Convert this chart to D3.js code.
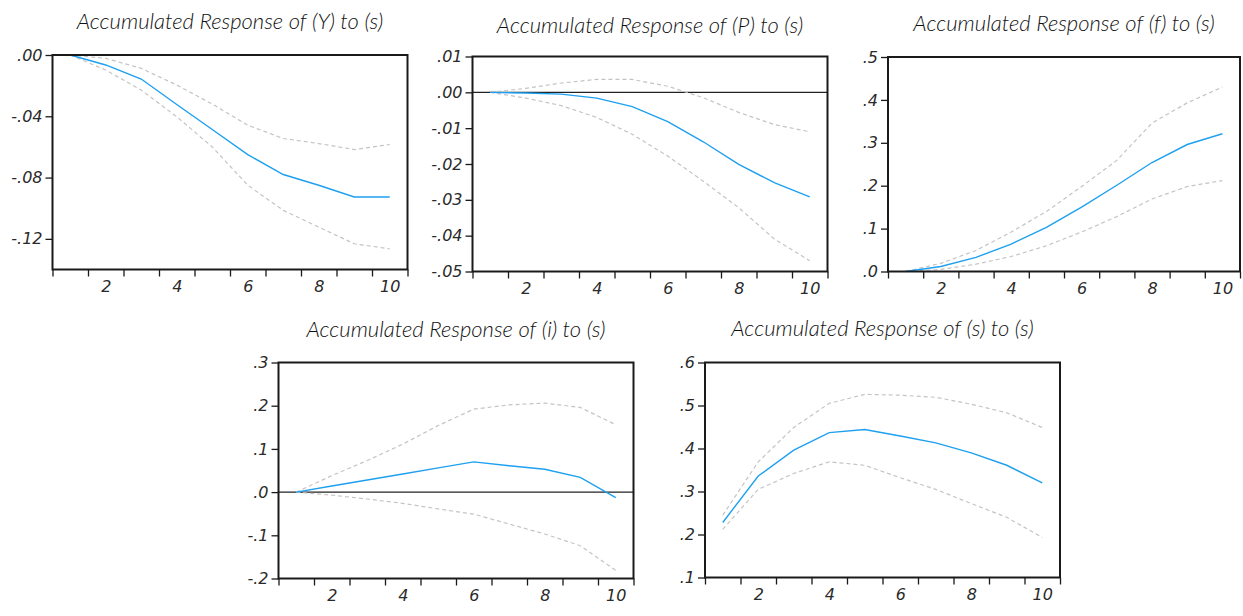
<!DOCTYPE html>
<html>
<head>
<meta charset="utf-8">
<script src="https://cdn.jsdelivr.net/npm/d3@7"></script>
<style>
  body { margin: 0; background: #fff; }
  svg { display: block; }
  .title { font-family: Lato, "Open Sans", sans-serif; font-style: italic; font-weight: 300; font-size: 22px; fill: #111; }
  .tick text { font-family: "DejaVu Sans", sans-serif; font-style: oblique; font-size: 16px; fill: #2a2a2a; }
</style>
</head>
<body>
<div id="chart"></div>
<script>
// horizon (periods after the shock)
const periods = [1, 2, 3, 4, 5, 6, 7, 8, 9, 10];
const xTickLabels = [2, 4, 6, 8, 10];

const titles = [
  "Accumulated Response of (Y) to (s)",
  "Accumulated Response of (P) to (s)",
  "Accumulated Response of (f) to (s)",
  "Accumulated Response of (i) to (s)",
  "Accumulated Response of (s) to (s)"
];

// response of Y
const respY  = [0, -0.0065, -0.0157, -0.0323, -0.0486, -0.065, -0.078, -0.085, -0.0927, -0.0927];
const upperY = [0, -0.0022, -0.0087, -0.0196, -0.032, -0.0458, -0.0545, -0.0578, -0.0617, -0.0584];
const lowerY = [0, -0.0098, -0.0229, -0.0403, -0.060, -0.085, -0.1014, -0.1123, -0.1232, -0.1265];
const ticksY = [0, -0.04, -0.08, -0.12];

// response of P
const respP  = [0, -0.0002, -0.0005, -0.0016, -0.004, -0.0082, -0.0138, -0.0201, -0.0252, -0.0292];
const upperP = [0, 0.0011, 0.0026, 0.0036, 0.0036, 0.0017, -0.0015, -0.0056, -0.009, -0.011];
const lowerP = [0, -0.0016, -0.0037, -0.007, -0.0117, -0.0178, -0.0248, -0.0322, -0.0409, -0.047];
const ticksP = [0.01, 0, -0.01, -0.02, -0.03, -0.04, -0.05];

// response of f
const respF  = [0, 0.0117, 0.033, 0.064, 0.103, 0.150, 0.201, 0.254, 0.296, 0.321];
const upperF = [0, 0.019, 0.049, 0.092, 0.140, 0.198, 0.259, 0.346, 0.393, 0.430];
const lowerF = [0, 0.005, 0.017, 0.035, 0.060, 0.092, 0.128, 0.169, 0.198, 0.212];
const ticksF = [0, 0.1, 0.2, 0.3, 0.4, 0.5];

// response of i
const respI  = [0, 0.014, 0.028, 0.042, 0.056, 0.070, 0.061, 0.053, 0.034, -0.013];
const upperI = [0, 0.038, 0.073, 0.111, 0.154, 0.192, 0.202, 0.206, 0.196, 0.156];
const lowerI = [0, -0.007, -0.016, -0.026, -0.039, -0.051, -0.074, -0.097, -0.124, -0.181];
const ticksI = [-0.2, -0.1, 0, 0.1, 0.2, 0.3];

// response of s
const respS  = [0.228, 0.336, 0.396, 0.437, 0.444, 0.429, 0.413, 0.390, 0.361, 0.320];
const upperS = [0.245, 0.369, 0.449, 0.505, 0.526, 0.524, 0.519, 0.503, 0.483, 0.449];
const lowerS = [0.212, 0.305, 0.342, 0.369, 0.361, 0.332, 0.305, 0.272, 0.240, 0.193];
const ticksS = [0.1, 0.2, 0.3, 0.4, 0.5, 0.6];

const W = 1243, H = 616;
const svg = d3.select("#chart").append("svg").attr("width", W).attr("height", H);

// panel boxes: left, top, width, height, title baseline
const panels = [
  { x: 52.5, y: 55,    w: 355, h: 214.5, tb: 29, resp: respY, up: upperY, lo: lowerY, ticks: ticksY, dom: [-0.14, 0], dec: 2, zero: false },
  { x: 472.5, y: 56.5, w: 355, h: 215,   tb: 33, resp: respP, up: upperP, lo: lowerP, ticks: ticksP, dom: [-0.05, 0.01], dec: 2, zero: true },
  { x: 888,  y: 57,    w: 352, h: 214.5, tb: 31, resp: respF, up: upperF, lo: lowerF, ticks: ticksF, dom: [0, 0.5], dec: 1, zero: false },
  { x: 278.5, y: 362.5, w: 355, h: 216,  tb: 337, resp: respI, up: upperI, lo: lowerI, ticks: ticksI, dom: [-0.2, 0.3], dec: 1, zero: true },
  { x: 705,  y: 362.5, w: 355, h: 215,   tb: 336, resp: respS, up: upperS, lo: lowerS, ticks: ticksS, dom: [0.1, 0.6], dec: 1, zero: false }
];

// eviews style: ".05", "-.04" (plain hyphen, no leading zero)
function fmt(dec) {
  const f = d3.format("." + dec + "f");
  return d => f(d).replace("\u2212", "-").replace("0.", ".");
}

panels.forEach((p, i) => {
  const g = svg.append("g").attr("transform", `translate(${p.x},${p.y})`);

  const x = d3.scaleLinear().domain([0.5, 10.5]).range([0, p.w]);
  const y = d3.scaleLinear().domain(p.dom).range([p.h, 0]);

  // title
  svg.append("text")
    .attr("class", "title")
    .attr("x", p.x + p.w / 2)
    .attr("y", p.tb)
    .attr("text-anchor", "middle")
    .text(titles[i]);

  // zero line
  if (p.zero) {
    g.append("line")
      .attr("x1", 0).attr("x2", p.w)
      .attr("y1", y(0)).attr("y2", y(0))
      .attr("stroke", "#222").attr("stroke-width", 1.2);
  }

  const line = d3.line()
    .x((d, k) => x(periods[k]))
    .y(d => y(d));

  g.append("path").datum(p.up)
    .attr("d", line).attr("fill", "none")
    .attr("stroke", "#c4c4c4").attr("stroke-width", 1.2)
    .attr("stroke-dasharray", "4,3");
  g.append("path").datum(p.lo)
    .attr("d", line).attr("fill", "none")
    .attr("stroke", "#c4c4c4").attr("stroke-width", 1.2)
    .attr("stroke-dasharray", "4,3");
  g.append("path").datum(p.resp)
    .attr("d", line).attr("fill", "none")
    .attr("stroke", "#1ea0f0").attr("stroke-width", 1.4);

  // box
  g.append("rect")
    .attr("width", p.w).attr("height", p.h)
    .attr("fill", "none").attr("stroke", "#1a1a1a").attr("stroke-width", 2);

  // y axis
  const ya = g.append("g")
    .call(d3.axisLeft(y).tickValues(p.ticks).tickFormat(fmt(p.dec)).tickSize(7).tickPadding(3));
  ya.select(".domain").remove();
  ya.selectAll(".tick line").attr("stroke", "#1a1a1a").attr("stroke-width", 1.3);

  // x axis: ticks at period boundaries, labels at even periods
  const xa = g.append("g").attr("transform", `translate(0,${p.h})`)
    .call(d3.axisBottom(x).tickValues(d3.range(0.5, 11, 1)).tickFormat("").tickSize(7));
  xa.select(".domain").remove();
  xa.selectAll(".tick line").attr("stroke", "#1a1a1a").attr("stroke-width", 1.3);

  const xl = g.append("g").attr("transform", `translate(0,${p.h})`)
    .call(d3.axisBottom(x).tickValues(xTickLabels).tickFormat(d3.format("d")).tickSize(0).tickPadding(11));
  xl.select(".domain").remove();
});
</script>
</body>
</html>
